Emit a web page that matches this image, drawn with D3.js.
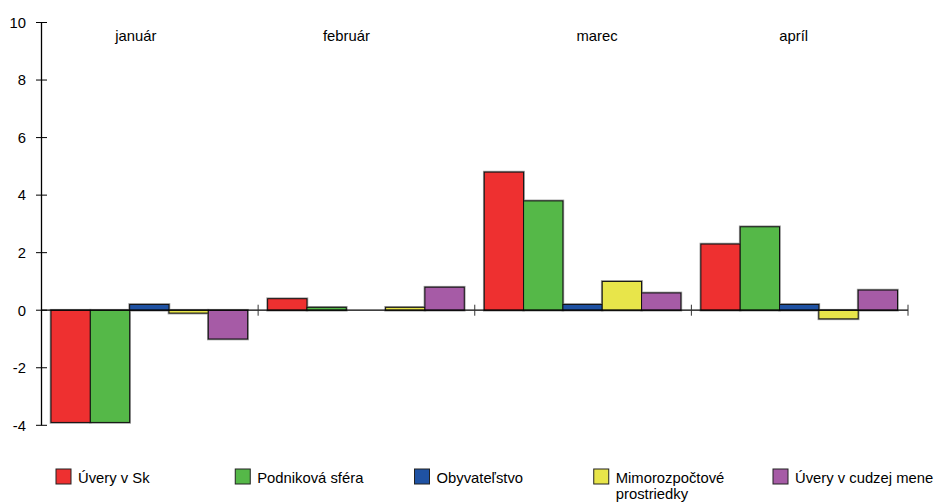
<!DOCTYPE html>
<html>
<head>
<meta charset="utf-8">
<script src="https://cdn.jsdelivr.net/npm/d3@7/dist/d3.min.js"></script>
<style>
body{margin:0;background:#fff;}
svg{display:block;font-family:"Liberation Sans",Arial,sans-serif;}
</style>
</head>
<body>
<div id="chart"></div>
<script>
const categories = ["január","február","marec","apríl"];
const seriesNames = ["Úvery v Sk","Podniková sféra","Obyvateľstvo","Mimorozpočtové prostriedky","Úvery v cudzej mene"];
const uverySk      = [-3.9, 0.4, 4.8, 2.3];
const podnikova    = [-3.9, 0.1, 3.8, 2.9];
const obyvatelstvo = [ 0.2, 0.0, 0.2, 0.2];
const mimorozpoct  = [-0.1, 0.1, 1.0,-0.3];
const uveryCudzej  = [-1.0, 0.8, 0.6, 0.7];
const yTicks = [-4,-2,0,2,4,6,8,10];

const series = [uverySk, podnikova, obyvatelstvo, mimorozpoct, uveryCudzej];
const colors = ["#EE3030","#55B848","#1F52A3","#E8E54A","#A65BA6"];
// layout: label horizontal offsets relative to category centre
const labelOffsets = [-14, -20, 14, -6];
const FS = 14.8;

const W = 939, H = 502;
const svg = d3.select("#chart").append("svg").attr("width", W).attr("height", H);

const x0 = d3.scaleBand().domain(categories).range([41.5, 908]).paddingInner(0).paddingOuter(0);
const x1 = d3.scaleBand().domain(d3.range(series.length)).range([9.5, x0.bandwidth() - 10.5]).padding(0);
const y = d3.scaleLinear().domain([-4, 10]).range([425.3, 22.5]);

const g = svg.append("g");

// bars
categories.forEach((c, ci) => {
  const grp = g.append("g").attr("transform", `translate(${x0(c)},0)`);
  series.forEach((s, si) => {
    const v = s[ci];
    if (v === 0) return;
    const yTop = y(Math.max(0, v)), yBot = y(Math.min(0, v));
    grp.append("rect")
      .attr("x", x1(si)).attr("y", yTop)
      .attr("width", x1.bandwidth()).attr("height", yBot - yTop)
      .attr("fill", "none").attr("stroke", "#999").attr("stroke-width", 2.6);
  });
  series.forEach((s, si) => {
    const v = s[ci];
    if (v === 0) return;
    const yTop = y(Math.max(0, v)), yBot = y(Math.min(0, v));
    grp.append("rect")
      .attr("x", x1(si)).attr("y", yTop)
      .attr("width", x1.bandwidth()).attr("height", yBot - yTop)
      .attr("fill", colors[si]).attr("stroke", "#111").attr("stroke-width", 1);
  });
});

// zero line
g.append("line").attr("x1", 41.5).attr("x2", 908).attr("y1", y(0)).attr("y2", y(0))
  .attr("stroke", "#000").attr("stroke-width", 1.3);
// category separators
const seps = categories.map(c => x0(c)).concat([x0(categories[categories.length-1]) + x0.bandwidth()]).slice(1);
seps.forEach(sx => {
  g.append("line").attr("x1", sx).attr("x2", sx).attr("y1", y(0) - 5.5).attr("y2", y(0) + 5.5)
    .attr("stroke", "#333").attr("stroke-width", 1);
});

// y axis
g.append("line").attr("x1", 41.5).attr("x2", 41.5).attr("y1", y(10)).attr("y2", y(-4))
  .attr("stroke", "#000").attr("stroke-width", 1.3);
yTicks.forEach(t => {
  g.append("line").attr("x1", 36).attr("x2", 47).attr("y1", y(t)).attr("y2", y(t))
    .attr("stroke", "#000").attr("stroke-width", 1);
  g.append("text").attr("x", 26).attr("y", y(t)).attr("dy", "0.36em")
    .attr("text-anchor", "end").attr("font-size", FS).attr("fill", "#000").text(t);
});

// category labels
categories.forEach((c, ci) => {
  g.append("text").attr("x", x0(c) + x0.bandwidth() / 2 + labelOffsets[ci]).attr("y", 41)
    .attr("text-anchor", "middle").attr("font-size", FS).attr("fill", "#000").text(c);
});

// legend
const legendX = d3.scalePoint().domain(d3.range(series.length)).range([56, 773]);
seriesNames.forEach((n, i) => {
  const lx = legendX(i);
  svg.append("rect").attr("x", lx).attr("y", 469).attr("width", 15).attr("height", 15)
    .attr("fill", colors[i]).attr("stroke", "#222").attr("stroke-width", 1);
  const t = svg.append("text").attr("x", lx + 22).attr("y", 483).attr("font-size", FS).attr("fill", "#000");
  const parts = n === "Mimorozpočtové prostriedky" ? ["Mimorozpočtové", "prostriedky"] : [n];
  parts.forEach((p, pi) => {
    t.append("tspan").attr("x", lx + 22).attr("dy", pi === 0 ? 0 : 16).text(p);
  });
});
</script>
</body>
</html>
